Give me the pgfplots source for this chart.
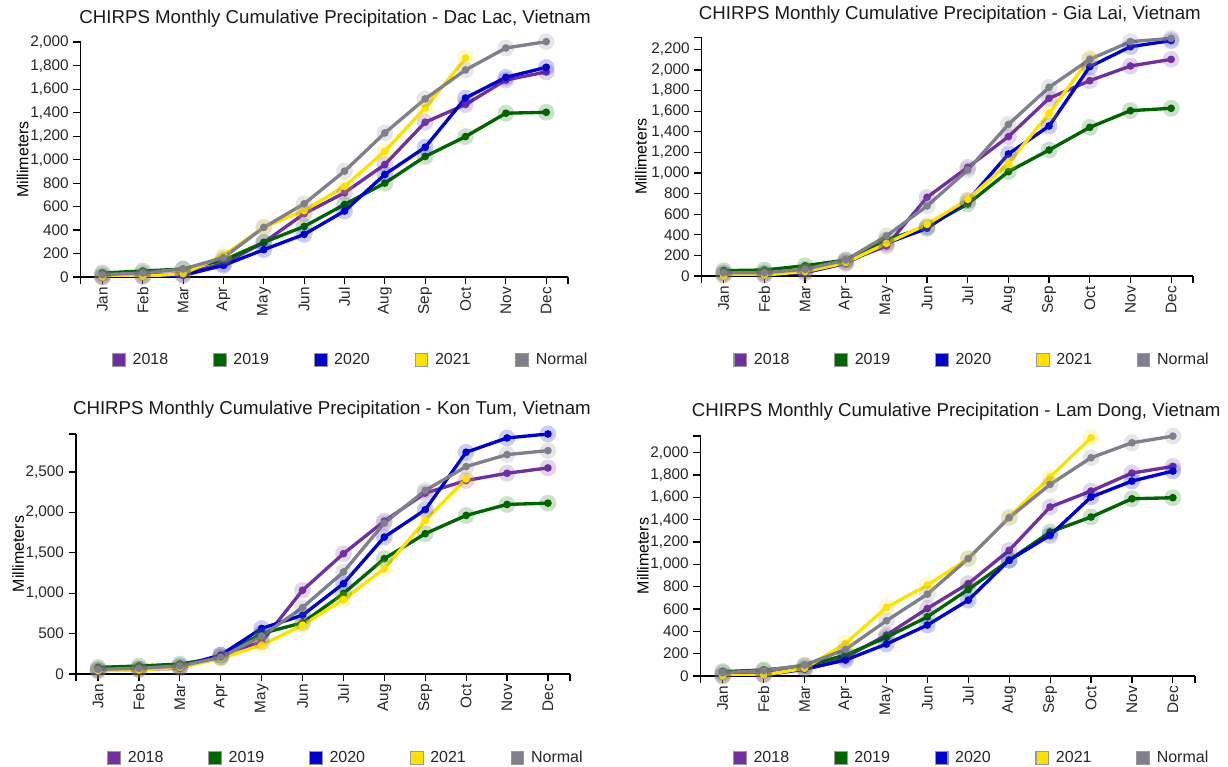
\documentclass[border=0pt]{standalone}
\usepackage{fontspec}
\setmainfont{Liberation Sans}
\usepackage{pgfplots}
\usepackage{pgfplotstable}
\pgfplotsset{compat=1.18}

\definecolor{c18}{RGB}{112,48,160}
\definecolor{c19}{RGB}{0,100,0}
\definecolor{c20}{RGB}{0,0,205}
\definecolor{c21}{RGB}{255,225,0}
\definecolor{cn}{RGB}{128,128,140}

% Dac Lac
\pgfplotstableread{
m y18 y19 y20 y21 yn
0 5 34 0 0 20
1 14 51 6 6 34
2 28 68 14 28 68
3 113 142 99 184 165
4 295 295 233 423 423
5 539 431 363 567 624
6 718 618 562 772 902
7 959 800 874 1072 1228
8 1319 1027 1106 1441 1518
9 1470 1197 1526 1867 1765
10 1679 1396 1702 nan 1952
11 1748 1404 1787 nan 2006
}\tabA
% Gia Lai
\pgfplotstableread{
m y18 y19 y20 y21 yn
0 26 52 10 0 32
1 26 58 10 10 32
2 52 100 32 42 65
3 139 155 123 129 155
4 291 349 317 317 388
5 764 479 463 502 680
6 1055 699 731 744 1029
7 1353 1013 1184 1094 1472
8 1725 1223 1456 1579 1832
9 1896 1443 2032 2113 2103
10 2039 1605 2226 nan 2275
11 2103 1628 2285 nan 2307
}\tabB
% Kon Tum
\pgfplotstableread{
m y18 y19 y20 y21 yn
0 49 82 41 41 58
1 58 99 58 49 70
2 70 123 91 82 99
3 235 206 235 193 206
4 399 502 564 358 469
5 1037 634 728 605 823
6 1490 996 1119 922 1263
7 1893 1428 1695 1304 1868
8 2239 1737 2033 1901 2272
9 2395 1963 2745 2415 2568
10 2485 2099 2922 nan 2716
11 2551 2115 2971 nan 2765
}\tabC
% Lam Dong
\pgfplotstableread{
m y18 y19 y20 y21 yn
0 9 39 0 0 30
1 18 54 9 9 48
2 69 89 60 69 98
3 167 188 143 292 238
4 367 346 286 614 495
5 605 530 456 814 733
6 828 775 679 1052 1052
7 1126 1037 1037 1424 1418
8 1514 1290 1260 1782 1716
9 1657 1424 1603 2134 1955
10 1818 1588 1746 nan 2089
11 1877 1597 1836 nan 2149
}\tabD

\newcommand{\series}[3]{%
  \addplot[color=#3, only marks, mark=*, mark size=6.3pt, mark options={fill=#3, draw=none, draw opacity=0, fill opacity=0.2}, forget plot] table[x=m,y=#2]{#1};
  \addplot[color=#3, line width=2.5pt, mark=*, mark size=2.9pt, mark options={fill=#3, draw=none, draw opacity=0, solid}, forget plot] table[x=m,y=#2]{#1};
}
\newcommand{\allseries}[1]{%
  \series{#1}{y18}{c18}
  \series{#1}{y19}{c19}
  \series{#1}{y20}{c20}
  \series{#1}{y21}{c21}
  \series{#1}{yn}{cn}
  \addlegendimage{fill=c18}\addlegendentry{2018}
  \addlegendimage{fill=c19}\addlegendentry{2019}
  \addlegendimage{fill=c20}\addlegendentry{2020}
  \addlegendimage{fill=c21}\addlegendentry{2021}
  \addlegendimage{fill=cn}\addlegendentry{Normal}
}

\pgfplotsset{panel/.style={
  scale only axis,
  axis x line=bottom, axis y line=left,
  axis line style={-, line width=1.1pt, black},
  tick align=outside,
  major tick length=5.5pt,
  tick style={black, line width=0.9pt},
  xmin=-0.54, xmax=11.54,
  xtick={0,...,11},
  xticklabels={Jan,Feb,Mar,Apr,May,Jun,Jul,Aug,Sep,Oct,Nov,Dec},
  x tick label style={rotate=90, anchor=east, inner sep=2pt},
  ymin=0,
  scaled y ticks=false,
  /pgf/number format/1000 sep={,},
  /pgf/number format/assume math mode=true,
  tick label style={font=\fontsize{11.5}{13}\selectfont, text=black!85},
  ylabel=Millimeters,
  ylabel style={font=\fontsize{12}{14}\selectfont, anchor=center, rotate=0},
  title style={font=\fontsize{14}{16}\selectfont, anchor=base, text=black!90},
  extra x ticks={-0.54,11.54},
  extra x tick labels={},
  legend columns=5,
  legend style={draw=none, fill=none, inner sep=0pt, anchor=west,
    font=\fontsize{12}{14}\selectfont, text=black!85,
    /tikz/every odd column/.append style={column sep=3pt},
    /tikz/every even column/.append style={column sep=31.5pt}},
  legend cell align=left,
  legend image code/.code={\draw[#1, draw=gray!80, line width=0.8pt] (0pt,-4.8pt) rectangle (9.6pt,4.8pt);},
}}

\begin{document}
\begin{tikzpicture}
\useasboundingbox (0,0) rectangle (921pt,575.25pt);

% Panel 1: Dac Lac
\begin{axis}[panel,
  at={(60.5pt,367.5pt)}, anchor=south west,
  width=365.5pt, height=176.5pt,
  ymax=2006, ytick={0,200,...,2000},
  extra y ticks={2006}, extra y tick labels={},
  title={CHIRPS Monthly Cumulative Precipitation - Dac Lac, Vietnam},
  title style={at={(axis description cs:0.522,1)}, yshift=7.5pt},
  ylabel style={at={(axis description cs:-0.119,0.5)}},
  legend style={at={(axis description cs:0.064,-0.353)}},
]
\allseries{\tabA}
\end{axis}

% Panel 2: Gia Lai
\begin{axis}[panel,
  at={(526.3pt,368.25pt)}, anchor=south west,
  width=368.5pt, height=179pt,
  ymax=2317, ytick={0,200,...,2200},
  extra y ticks={2317}, extra y tick labels={},
  title={CHIRPS Monthly Cumulative Precipitation - Gia Lai, Vietnam},
  title style={at={(axis description cs:0.505,1)}, yshift=7.5pt},
  ylabel style={at={(axis description cs:-0.124,0.5)}},
  legend style={at={(axis description cs:0.064,-0.352)}},
]
\allseries{\tabB}
\end{axis}

% Panel 3: Kon Tum
\begin{axis}[panel,
  at={(57pt,69.75pt)}, anchor=south west,
  width=370.5pt, height=180pt,
  ymax=2971, ytick={0,500,...,2500},
  extra y ticks={2971}, extra y tick labels={},
  title={CHIRPS Monthly Cumulative Precipitation - Kon Tum, Vietnam},
  title style={at={(axis description cs:0.518,1)}, yshift=8.5pt},
  ylabel style={at={(axis description cs:-0.117,0.5)}},
  legend style={at={(axis description cs:0.063,-0.35)}},
]
\allseries{\tabC}
\end{axis}

% Panel 4: Lam Dong
\begin{axis}[panel,
  at={(525.5pt,68.25pt)}, anchor=south west,
  width=370.7pt, height=180pt,
  ymax=2150, ytick={0,200,...,2000},
  extra y ticks={2150}, extra y tick labels={},
  title={CHIRPS Monthly Cumulative Precipitation - Lam Dong, Vietnam},
  title style={at={(axis description cs:0.517,1)}, yshift=8.5pt},
  ylabel style={at={(axis description cs:-0.117,0.5)}},
  legend style={at={(axis description cs:0.065,-0.342)}},
]
\allseries{\tabD}
\end{axis}
\end{tikzpicture}
\end{document}
